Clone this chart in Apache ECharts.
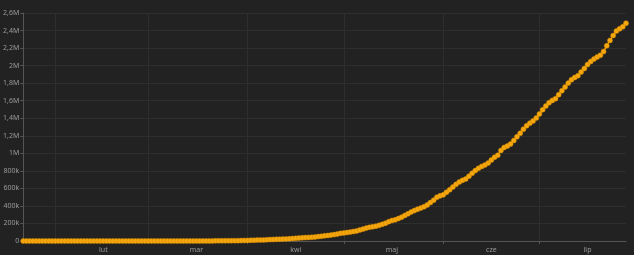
<!DOCTYPE html>
<html><head><meta charset="utf-8">
<script src="https://cdn.jsdelivr.net/npm/echarts@6/dist/echarts.min.js"></script>
<style>html,body{margin:0;padding:0;background:#222222;}#c{width:634px;height:255px;}</style>
</head><body><div id="c"></div>
<script>
// Daily cumulative values, starting 2020-01-22
var startDate = '2020-01-22';
var valuesJanFeb = [0,0,0,0,0,0,0,0,0,0, 0,0,0,0,0,0,0,0,0,0,0,0,0,0,0,0,0,0,0,0,0,0,0,0,0, 1,1,1,2];
var valuesMar = [2,2,2,4,4,13,13,20,25,31,38,52,151,151,162,200,321,372,621,793,1021,1546,1924,2247,2554,2985,3417,3904,4256,4579,5717];
var valuesApr = [6836,8044,9056,10360,11130,12161,14034,16170,18092,19638,20727,22192,23430,25262,28320,30425,33682,36658,38654,40743,43079,45757,50036,54043,59324,63100,67446,73235,79685,87187];
var valuesMay = [92202,97100,101826,108620,115455,126611,135773,146894,156061,162699,169594,178214,190137,203165,220291,233511,241080,255368,271885,291579,310087,330890,347398,363211,374898,391222,411821,438238,465166,498440,514849];
var valuesJun = [526447,555383,584016,614941,645771,672846,691758,707412,739503,772416,802828,828810,850514,867624,888271,923189,955377,978142,1032913,1067579,1083341,1106470,1145906,1188631,1228114,1274974,1313667,1344143,1368195,1402041];
var valuesJul = [1448753,1496858,1539081,1577004,1603055,1623284,1668589,1713160,1755779,1800827,1839850,1864681,1884967,1926824,1966748,2012151,2046328,2074860,2098389,2118646,2159654,2227514,2287475,2343366,2394513,2419091,2442375,2483191];
var monthNames = ['sty','lut','mar','kwi','maj','cze','lip','sie','wrz','paź','lis','gru'];
var yMax = 2600000, yStep = 200000;

var values = [].concat(valuesJanFeb, valuesMar, valuesApr, valuesMay, valuesJun, valuesJul);
var dates = [];
var d0 = new Date(startDate + 'T00:00:00Z');
for (var i = 0; i < values.length; i++) {
  var d = new Date(d0.getTime() + i * 86400000);
  dates.push(d.toISOString().slice(0, 10));
}
function dayOf(s){ return parseInt(s.slice(8,10),10); }
function monOf(s){ return parseInt(s.slice(5,7),10) - 1; }
function fmtY(v){
  if (v === 0) return '0';
  if (v >= 1000000) return String(v/1000000).replace('.', ',') + 'M';
  return (v/1000) + 'k';
}
var chart = echarts.init(document.getElementById('c'), null, {renderer:'canvas'});
chart.setOption({
  backgroundColor: '#222222',
  animation: false,
  grid: {left: 23, right: 8, top: 13, bottom: 14},
  xAxis: {
    type: 'category',
    data: dates,
    boundaryGap: false,
    axisLine: {show: true, lineStyle: {color: '#555555', width: 1}},
    axisTick: {show: true, length: 3, lineStyle: {color: '#555555'},
      interval: function(idx, v){ return dayOf(v) === 1; }},
    axisLabel: {color: '#9a9a9a', fontSize: 7, fontFamily: 'Noto Sans', margin: 5,
      interval: function(idx, v){ return dayOf(v) === 16; },
      formatter: function(v){ return monthNames[monOf(v)]; }},
    splitLine: {show: true, lineStyle: {color: '#2e2e2e', width: 1},
      interval: function(idx, v){ return dayOf(v) === 1; }}
  },
  yAxis: {
    type: 'value',
    min: 0, max: yMax, interval: yStep,
    axisLine: {show: true, lineStyle: {color: '#555555', width: 1}},
    axisTick: {show: true, length: 3, lineStyle: {color: '#555555'}},
    axisLabel: {color: '#9a9a9a', fontSize: 7, fontFamily: 'Noto Sans', margin: 4, formatter: fmtY},
    splitLine: {show: true, lineStyle: {color: '#2e2e2e', width: 1}}
  },
  series: [{
    type: 'line',
    data: values,
    symbol: 'circle',
    symbolSize: 5,
    showSymbol: true,
    showAllSymbol: true,
    lineStyle: {color: '#f2a20c', width: 1.5},
    itemStyle: {color: '#f4a60f', borderColor: '#d98f00', borderWidth: 0.5}
  }]
});
</script>
</body></html>
